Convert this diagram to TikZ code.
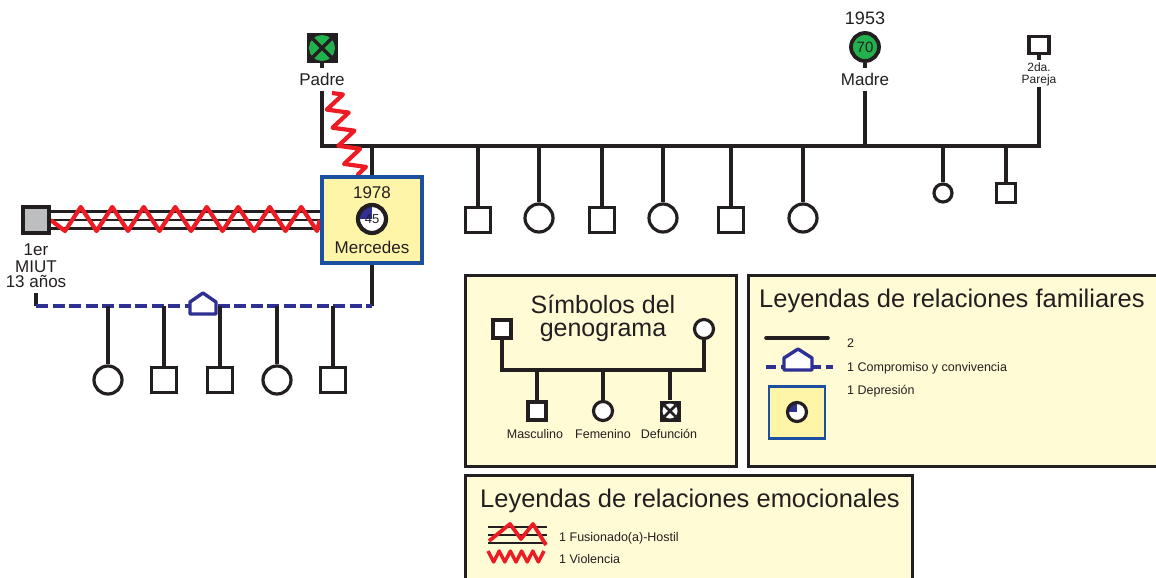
\documentclass[tikz,border=0pt]{standalone}
\usepackage{fontspec}
\setmainfont{Liberation Sans}
\usetikzlibrary{decorations.pathmorphing}
\pgfdeclarelayer{links}
\pgfsetlayers{links,main}

\definecolor{gGreen}{HTML}{22B14C}
\definecolor{gRed}{HTML}{ED1C24}
\definecolor{gBlue}{HTML}{2E3192}
\definecolor{gFrame}{HTML}{1C4F9F}
\definecolor{gYellow}{HTML}{FFF5A8}
\definecolor{gPaper}{HTML}{FFFBD5}
\definecolor{gInk}{HTML}{231F20}
\definecolor{gGrey}{HTML}{BCBEC0}

\tikzset{
  fs/.style={font=\fontsize{#1}{#1}\selectfont},
  male/.style={rectangle, draw=gInk, line width=3.2pt, fill=white, minimum size=#1, inner sep=0pt},
  male/.default=25pt,
  female/.style={circle, draw=gInk, line width=3.2pt, fill=white, minimum size=#1, inner sep=0pt},
  female/.default=28pt,
  link/.style={draw=gInk, line width=3.3pt},
  livein/.style={draw=gBlue, line width=3.4pt, dash pattern=on 12pt off 4.5pt},
  house/.style={draw=gBlue, line width=3.4pt, fill=white, line join=round},
  hostile/.style={draw=gRed, line width=4.2pt, line join=round},
  legendbox/.style={draw=gInk, line width=3pt, fill=gPaper},
  lbl/.style={text=gInk, inner sep=0pt, anchor=base},
  lblw/.style={text=gInk, inner sep=0pt, anchor=base west},
}

\begin{document}
\begin{tikzpicture}[x=1pt, y=-1pt]
\useasboundingbox (0,0) rectangle (1156,578);
\clip (0,0) rectangle (1156,578);

% ---------- parents ----------
\node[rectangle, fill=gInk, minimum width=31pt, minimum height=30pt, inner sep=0pt] (padre) at (322,48) {};
\node[circle, fill=gGreen, minimum size=26pt, inner sep=0pt] (padreDot) at (padre.center) {};
\draw[gInk, line width=3.2pt] (padreDot.north west) -- (padreDot.south east)
                              (padreDot.south west) -- (padreDot.north east);
\node[lbl, fs=17] (padreLbl) at (322,85) {Padre};

\node[circle, draw=gInk, line width=3.8pt, fill=gGreen, minimum size=28pt, inner sep=0pt, fs=15, text=gInk] (madre) at (865,47) {70};
\node[lbl, fs=18] (madreYear) at (865,25) {1953};
\node[lbl, fs=17] (madreLbl) at (865,85) {Madre};

\node[male, minimum width=20pt, minimum height=17pt] (pareja) at (1039,45) {};
\node[lbl, fs=12] (parejaA) at (1039,71) {2da.};
\node[lbl, fs=12] (parejaB) at (1039,83) {Pareja};

% ---------- index person ----------
\node[rectangle, draw=gFrame, line width=4.4pt, fill=gYellow, minimum width=100pt, minimum height=86pt] (merc) at (372,220) {};
\node[lbl, fs=17] (mercYear) at (372,198) {1978};
\node[circle, fill=white, minimum size=28pt, inner sep=0pt] (mercAge) at (372,219) {};
\begin{scope}
  \clip (mercAge.center) circle[radius=14pt];
  \fill[gBlue] (mercAge.center) rectangle +(-16pt,16pt);
\end{scope}
\node[circle, draw=gInk, line width=4.2pt, minimum size=28pt, inner sep=0pt, fs=13, text=gInk] (mercRing) at (mercAge.center) {45};
\node[lbl, fs=17] (mercName) at (372,253) {Mercedes};

% ---------- first partner ----------
\node[male, fill=gGrey, minimum size=26pt] (miut) at (36,220) {};
\node[lbl, fs=17] (miutA) at (36,255) {1er};
\node[lbl, fs=17] (miutB) at (36,272) {MIUT};
\node[lbl, fs=17] (miutC) at (36,287) {13 años};

% ---------- siblings ----------
\node[male]   (s1) at (478,220) {};
\node[female] (s2) at (539,218) {};
\node[male]   (s3) at (602,220) {};
\node[female] (s4) at (663,218) {};
\node[male]   (s5) at (731,220) {};
\node[female] (s6) at (803,218) {};
\node[female=18pt] (h1) at (943,193) {};
\node[male=19pt]   (h2) at (1006,193) {};

% ---------- children ----------
\node[female] (k1) at (108,380) {};
\node[male]   (k2) at (164,380) {};
\node[male]   (k3) at (220,380) {};
\node[female] (k4) at (277,380) {};
\node[male]   (k5) at (333,380) {};

% ---------- connectors ----------
\coordinate (padreFoot) at (322,91);
\coordinate (sibL) at (322,146);
\coordinate (sibR) at (1039,146);
\coordinate (parejaFoot) at (1039,87);
\coordinate (madreFoot) at (865,91);
\coordinate (zzTop) at (332,93);
\coordinate (miutFoot) at (36,293);
\coordinate (coupleL) at (36,306);
\coordinate (coupleR) at (372,306);

\begin{pgfonlayer}{links}
  \draw[link] (padre.south) -- ++(0,5);
  \draw[link] (madre.south) -- ++(0,5);
  \draw[link] (pareja.south) -- ++(0,5);
  \draw[link] (padreFoot) -- (sibL) -- (sibR) -- (parejaFoot);
  \draw[link] (madreFoot) -- (madreFoot |- sibL);
  \draw[link] (merc.north |- sibL) -- (merc.north);
  \foreach \s in {s1,s2,s3,s4,s5,s6,h1,h2}
    \draw[link] (\s |- sibL) -- (\s.north);

  % fused-hostile bond with the first partner
  \foreach \dy in {8.5,0,-8.5}
    \draw[link, line width=2.9pt] ([yshift=\dy pt]miut.east) -- ([yshift=\dy pt]merc.west);
  \draw[hostile] (miut.east) -- (65,231) -- (80.75,207) -- (96.5,231) -- (112.25,207)
    -- (128,231) -- (143.75,207) -- (159.5,231) -- (175.25,207) -- (191,231)
    -- (206.75,207) -- (222.5,231) -- (238.25,207) -- (254,231) -- (269.75,207)
    -- (285.5,231) -- (301.25,207) -- (317,231) -- (merc.west);

  % violence from the father
  \draw[hostile, decorate, decoration={zigzag, segment length=19pt, amplitude=10pt}]
    (zzTop) -- ([xshift=-14pt]merc.north);

  % cohabitation line and its children
  \draw[link] (miutFoot) -- (coupleL);
  \draw[link] (merc.south) -- (coupleR);
  \draw[livein] (coupleL) -- (coupleR);
  \foreach \k in {k1,k2,k3,k4,k5}
    \draw[link] (\k |- coupleL) -- (\k.north);
\end{pgfonlayer}
\draw[house] (190,314) -- (190,302) -- (203,293) -- (216,302) -- (216,314) -- cycle;

% ---------- legend: symbols ----------
\draw[legendbox] (465,275) rectangle (736,466);
\node[lbl, fs=25] (symT1) at (603,313) {Símbolos del};
\node[lbl, fs=25] (symT2) at (603,336) {genograma};
\node[male=18pt]   (symM) at (502,329) {};
\node[female=19pt] (symF) at (704,329) {};
\coordinate (symL) at (502,370);
\coordinate (symR) at (704,370);
\node[male=18pt]   (symKm) at (537,411) {};
\node[female=19pt] (symKf) at (603,411) {};
\node[rectangle, fill=gInk, minimum size=21pt, inner sep=0pt] (symKd) at (670,411) {};
\node[circle, fill=white, minimum size=15pt, inner sep=0pt] (symKdDot) at (symKd.center) {};
\draw[gInk, line width=2.6pt] (symKdDot.north west) -- (symKdDot.south east)
                              (symKdDot.south west) -- (symKdDot.north east);
\draw[link] (symM.south) -- (symL) -- (symR) -- (symF.south);
\foreach \s in {symKm,symKf,symKd}
  \draw[link] (\s |- symL) -- (\s.north);
\node[lbl, fs=12.5] (symLm) at (535,438) {Masculino};
\node[lbl, fs=12.5] (symLf) at (603,438) {Femenino};
\node[lbl, fs=12.5] (symLd) at (669,438) {Defunción};

% ---------- legend: family relations ----------
\draw[legendbox] (748,275) rectangle (1180,466);
\node[lblw, fs=25.5] (famT) at (759,307) {Leyendas de relaciones familiares};
\coordinate (famA) at (766,338);
\coordinate (famB) at (828,338);
\draw[link, line cap=round, line width=3.6pt] (famA) -- (famB);
\node[lblw, fs=12.5] (famL1) at (847,347) {2};
\coordinate (livA) at (766,367);
\coordinate (livB) at (833,367);
\draw[livein, dash pattern=on 10pt off 5pt] (livA) -- (livB);
\draw[house] (784,370) -- (784,358) -- (798,349) -- (812,358) -- (812,370) -- cycle;
\node[lblw, fs=12.5] (famL2) at (847,371) {1 Compromiso y convivencia};
\node[rectangle, draw=gFrame, line width=2.8pt, fill=gYellow, minimum width=56pt, minimum height=52pt] (depIcon) at (797,412.5) {};
\node[circle, fill=white, minimum size=19pt, inner sep=0pt] (depDot) at (797,412) {};
\begin{scope}
  \clip (depDot.center) circle[radius=9.5pt];
  \fill[gBlue] (depDot.center) rectangle +(-11pt,11pt);
\end{scope}
\node[circle, draw=gInk, line width=3.2pt, minimum size=19pt, inner sep=0pt] (depRing) at (depDot.center) {};
\node[lblw, fs=12.5] (famL3) at (847,394) {1 Depresión};

% ---------- legend: emotional relations ----------
\draw[legendbox] (465,475) rectangle (912,600);
\node[lblw, fs=25.5] (emoT) at (480,507) {Leyendas de relaciones emocionales};
\coordinate (fuA) at (488,535);
\coordinate (fuB) at (547,535);
\foreach \dy in {8,0,-8}
  \draw[link, line width=2.9pt] ([yshift=\dy pt]fuA) -- ([yshift=\dy pt]fuB);
\draw[hostile, line width=3.8pt] (489,541) -- (510,524) -- (521,539) -- (533,524) -- (546,545);
\node[lblw, fs=12.5] (emoL1) at (559,541) {1 Fusionado(a)-Hostil};
\draw[hostile, line width=3.4pt] (488,551) -- (493.6,562) -- (499.2,551) -- (504.8,562) -- (510.4,551)
  -- (516,562) -- (521.6,551) -- (527.2,562) -- (532.8,551) -- (538.4,562) -- (544,551);
\node[lblw, fs=12.5] (emoL2) at (559,563) {1 Violencia};
\end{tikzpicture}
\end{document}
